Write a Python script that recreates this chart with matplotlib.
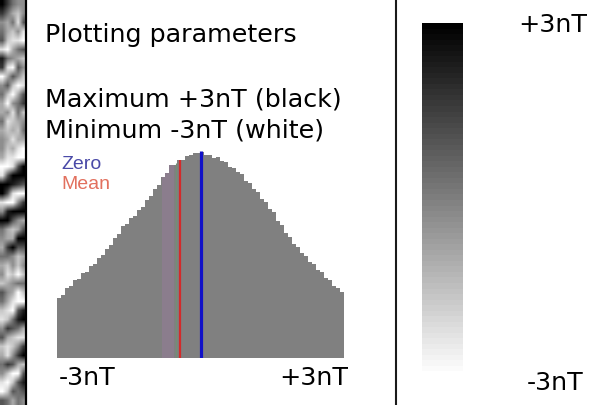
import numpy as np
import matplotlib
matplotlib.use("Agg")
import matplotlib.pyplot as plt
from matplotlib.lines import Line2D
from matplotlib.patches import Rectangle
import matplotlib as mpl

# ---------------- data ----------------
hist_min, hist_max = -3.0, 3.0            # nT
hist_counts = [60, 63, 70, 72, 78, 79, 85, 86, 92, 94,
               100, 103, 109, 113, 120, 124, 132, 134, 140, 142,
               148, 151, 158, 162, 169, 173, 181, 185, 193, 193,
               198, 198, 202, 203, 205, 205, 206, 203, 203, 200,
               201, 197, 196, 191, 190, 186, 184, 177, 175, 169,
               166, 159, 156, 149, 146, 137, 133, 125, 121, 114,
               111, 105, 102, 96, 94, 88, 86, 80, 78, 72,
               70, 66]
zero_value = 0.0
mean_value = -0.43
band_range = (-0.80, -0.55)
green_value = -0.51

title_lines = ["Plotting parameters", "Maximum +3nT (black)", "Minimum -3nT (white)"]
hist_left_label = "-3nT"
hist_right_label = "+3nT"
cbar_top_label = "+3nT"
cbar_bottom_label = "-3nT"

# grey levels of the survey strip on the left (0 = black, 9 = white)
strip_rows = ["02455", "24675", "56483", "46758", "37889", "89643", "14567", "28935",
              "96357", "53798", "47963", "69542", "65847", "48765", "67674", "56866",
              "57689", "68899", "99830", "83000", "00123", "03899", "89952", "51000",
              "00356", "46763", "56600", "62033", "44576", "67575", "58797", "76544",
              "35697", "46899", "78931", "87410", "52346", "36788", "78752", "68520",
              "42367", "57993", "89731", "97343", "34645"]

# ---------------- figure ----------------
W, H = 604, 405
fig = plt.figure(figsize=(W / 100, H / 100), dpi=100)
fig.patch.set_facecolor("white")

def fx(px):
    return px / W

def fy(py):
    return 1 - py / H

# left strip image
strip = np.array([[int(c) for c in r] for r in strip_rows], dtype=float)
ax_s = fig.add_axes([0, 0, fx(25), 1])
ax_s.imshow(strip, cmap="gray", vmin=0, vmax=9, aspect="auto", interpolation="bilinear")
ax_s.axis("off")

# separator lines
fig.add_artist(Line2D([fx(25.5), fx(25.5)], [0, 1], color="black", lw=1.6))
fig.add_artist(Line2D([fx(395.5), fx(395.5)], [0, 1], color="#1a1a1a", lw=1.5))

# texts
font = "DejaVu Sans"
fs = 18.3
fig.text(fx(45), fy(42), title_lines[0], fontsize=fs, family=font, va="baseline", ha="left")
fig.text(fx(45), fy(107), title_lines[1], fontsize=fs, family=font, va="baseline", ha="left")
fig.text(fx(45), fy(137), title_lines[2], fontsize=fs, family=font, va="baseline", ha="left")
fig.text(fx(59), fy(385), hist_left_label, fontsize=fs, family=font, va="baseline", ha="left")
fig.text(fx(348), fy(385), hist_right_label, fontsize=fs, family=font, va="baseline", ha="right")
fig.text(fx(587), fy(32), cbar_top_label, fontsize=fs, family=font, va="baseline", ha="right")
fig.text(fx(583), fy(390), cbar_bottom_label, fontsize=fs, family=font, va="baseline", ha="right")

# histogram
ax = fig.add_axes([fx(57), 47 / H, 287 / W, 220 / H])
ax.set_xlim(hist_min, hist_max)
ax.set_ylim(0, 220)
ax.axis("off")
counts = np.array(hist_counts, dtype=float)
edges = np.linspace(hist_min, hist_max, len(counts) + 1)
centers = 0.5 * (edges[:-1] + edges[1:])
st = ax.stairs(counts, edges, fill=True, color="#808080", lw=0)

band = Rectangle((band_range[0], 0), band_range[1] - band_range[0], 220,
                 facecolor="#8b7d8d", edgecolor="none")
ax.add_patch(band)
band.set_clip_path(st)

def height_at(v):
    return float(np.interp(v, centers, counts))

ax.vlines(green_value, 0, height_at(green_value), color="#6f9274", lw=0.8)
ax.vlines(mean_value, 0, height_at(mean_value), color="#d42a2a", lw=1.6)
ax.vlines(zero_value, 0, height_at(zero_value) + 2, color="#1010c8", lw=2.3)

fig.text(fx(61), fy(169), "Zero", fontsize=14, family="Liberation Sans", color="#4a4aa8", va="baseline")
fig.text(fx(61), fy(189), "Mean", fontsize=14, family="Liberation Sans", color="#e2705e", va="baseline")

# colour bar
cax = fig.add_axes([fx(422), 28 / H, 41 / W, 354 / H])
norm = mpl.colors.Normalize(vmin=-3, vmax=3)
cb = mpl.colorbar.ColorbarBase(cax, cmap=plt.get_cmap("gray_r", 64), norm=norm,
                               orientation="vertical")
cb.outline.set_visible(False)
cax.set_xticks([])
cax.set_yticks([])

fig.savefig("out.png", dpi=100, facecolor="white")
